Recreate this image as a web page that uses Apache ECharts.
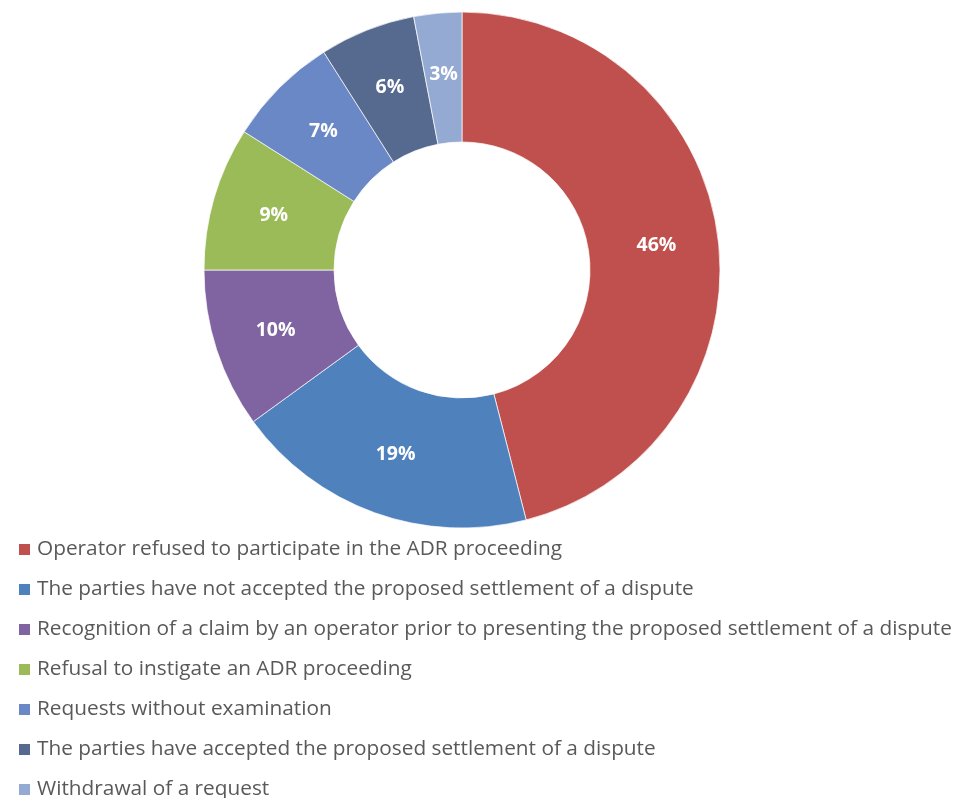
<!DOCTYPE html>
<html>
<head>
<meta charset="utf-8">
<script src="https://cdn.jsdelivr.net/npm/echarts@6/dist/echarts.min.js"></script>
<style>
  html, body { margin: 0; padding: 0; background: #fff; }
  #chart { width: 964px; height: 798px; }
</style>
</head>
<body>
<div id="chart"></div>
<script>
// Outcome categories of ADR requests and their shares (%)
const categories = [
  'Operator refused to participate in the ADR proceeding',
  'The parties have not accepted the proposed settlement of a dispute',
  'Recognition of a claim by an operator prior to presenting the proposed settlement of a dispute',
  'Refusal to instigate an ADR proceeding',
  'Requests without examination',
  'The parties have accepted the proposed settlement of a dispute',
  'Withdrawal of a request'
];
const shares = [46, 19, 10, 9, 7, 6, 3];
const colors = ['#C0504D', '#4F81BD', '#8064A2', '#9BBB59', '#6A88C5', '#56698F', '#95AAD3'];

const chart = echarts.init(document.getElementById('chart'), null, { renderer: 'canvas' });
chart.setOption({
  animation: false,
  color: colors,
  legend: {
    orient: 'vertical',
    left: 17,
    top: 539,
    height: 320,
    padding: 0,
    itemWidth: 13,
    itemHeight: 13,
    itemGap: 19,
    icon: 'rect',
    textStyle: {
      fontFamily: '"Open Sans", Lato, sans-serif',
      fontSize: 20.8,
      lineHeight: 21,
      color: '#595959',
      padding: [0, 0, 0, 1]
    },
    data: categories
  },
  series: [{
    type: 'pie',
    center: [462, 270],
    radius: [128, 258],
    startAngle: 90,
    clockwise: true,
    avoidLabelOverlap: false,
    itemStyle: { borderColor: '#ffffff', borderWidth: 0.7 },
    label: {
      show: true,
      position: 'inside',
      formatter: '{c}%',
      color: '#ffffff',
      fontFamily: '"Open Sans", Lato, sans-serif',
      fontWeight: 'bold',
      fontSize: 19.5
    },
    labelLine: { show: false },
    emphasis: { disabled: true },
    data: categories.map((name, i) => ({ name: name, value: shares[i] }))
  }]
});
</script>
</body>
</html>
